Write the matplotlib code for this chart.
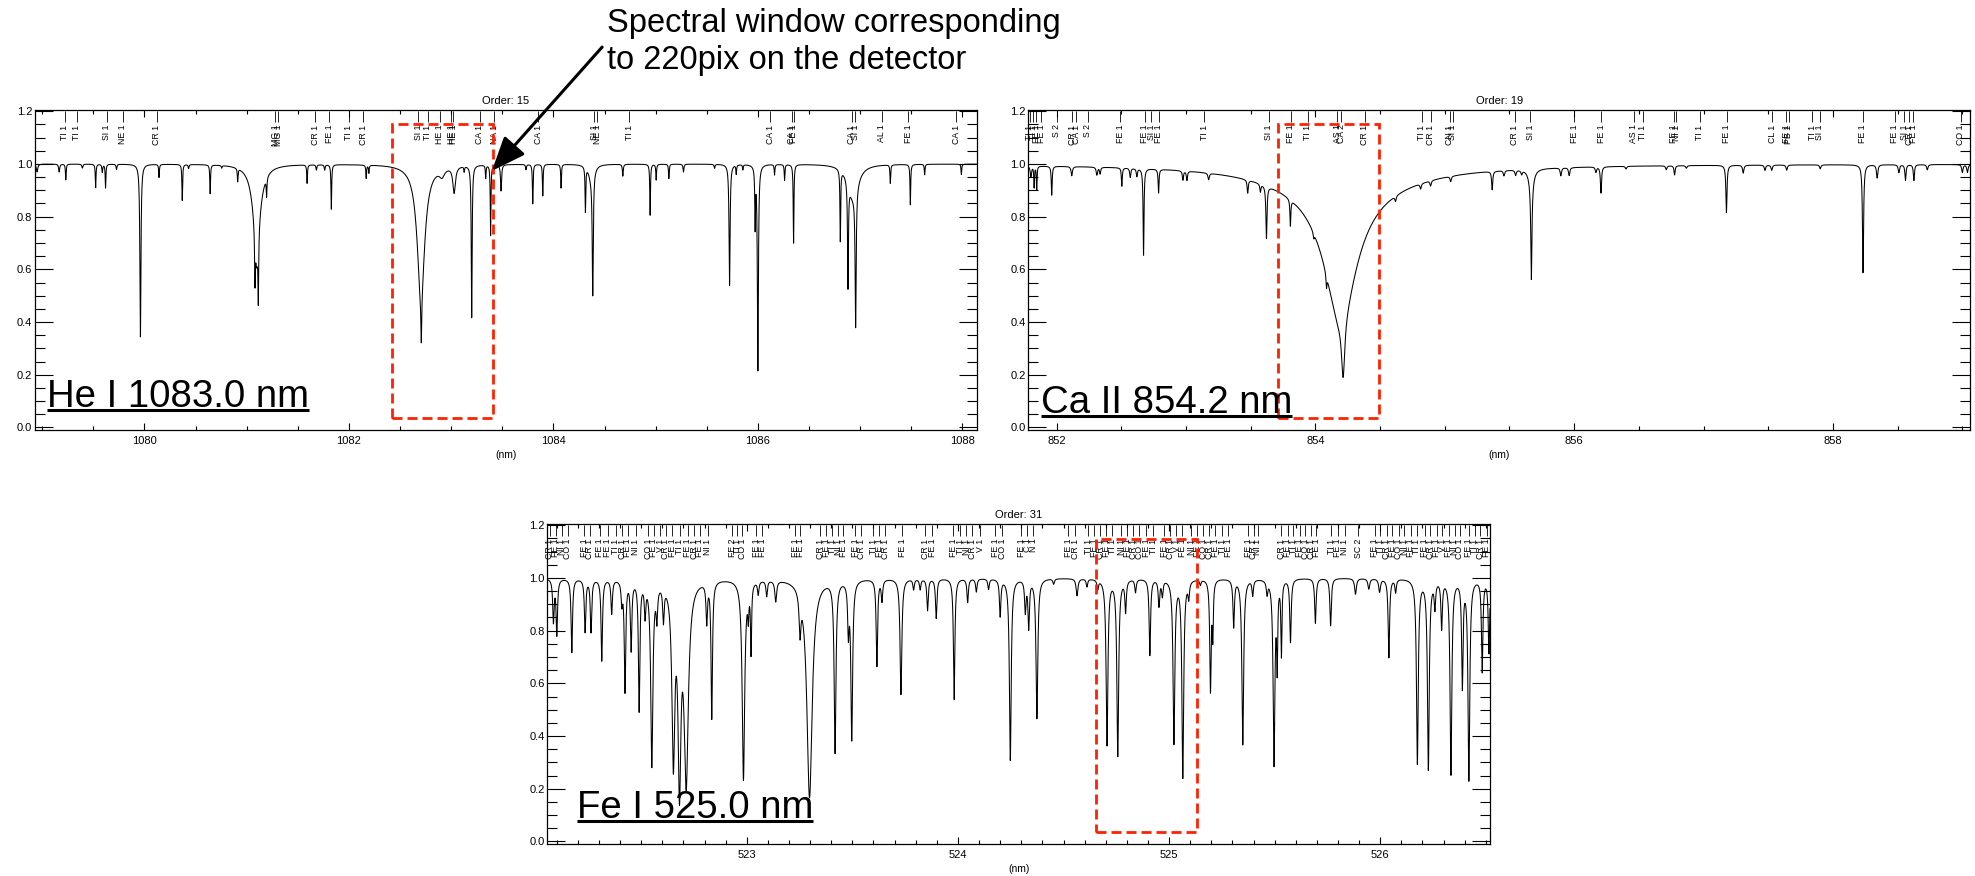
"""Espectros solares de três ordens com janela espectral do detector."""

import matplotlib
matplotlib.use("Agg")
import matplotlib.pyplot as plt
import numpy as np
from matplotlib.lines import Line2D
from matplotlib.patches import FancyArrowPatch, Rectangle
from matplotlib.ticker import FormatStrFormatter, MultipleLocator

plt.rcParams["font.family"] = ["Liberation Sans", "DejaVu Sans"]

# ---------------- Ordem 15: He I 1083.0 nm ----------------
he_centros = [1078.95, 1079.166, 1079.231, 1079.393, 1079.523, 1079.588, 1079.620, 1079.727,
              1079.961, 1080.143, 1080.370, 1080.432, 1080.643, 1080.756, 1080.912,
              1081.098, 1081.098, 1081.081, 1081.114, 1081.195, 1081.591, 1081.682, 1081.763,
              1081.828, 1082.169, 1082.195, 1082.705, 1082.708, 1082.91, 1083.029, 1083.127,
              1083.201, 1083.338, 1083.386, 1083.488, 1083.732, 1083.798, 1083.896, 1084.075,
              1084.313, 1084.385, 1084.37, 1084.679, 1084.946, 1085.005, 1085.129, 1085.272,
              1085.576, 1085.723, 1085.788, 1085.853, 1085.973, 1086.000, 1086.163, 1086.261,
              1086.349, 1086.806, 1086.881, 1086.93, 1086.956, 1087.295, 1087.491, 1087.631,
              1087.990]
he_profund = [0.03, 0.03, 0.06, 0.015, 0.09, 0.03, 0.09, 0.02,
              0.656, 0.05, 0.137, 0.015, 0.11, 0.01, 0.05,
              0.25, 0.12, 0.19, 0.25, 0.07, 0.07, 0.02, 0.02,
              0.17, 0.05, 0.03, 0.50, 0.18, 0.03, 0.10, 0.02,
              0.58, 0.05, 0.27, 0.10, 0.02, 0.15, 0.12, 0.09,
              0.17, 0.46, 0.05, 0.045, 0.194, 0.06, 0.055, 0.03,
              0.015, 0.46, 0.035, 0.02, 0.22, 0.78, 0.04, 0.06,
              0.30, 0.27, 0.40, 0.12, 0.52, 0.07, 0.155, 0.04,
              0.04]
he_largura = [0.008, 0.006, 0.004, 0.006, 0.004, 0.005, 0.004, 0.005,
              0.006, 0.004, 0.004, 0.005, 0.004, 0.005, 0.004,
              0.05, 0.015, 0.004, 0.004, 0.004, 0.004, 0.005, 0.005,
              0.004, 0.004, 0.004, 0.045, 0.005, 0.03, 0.015, 0.004,
              0.005, 0.004, 0.004, 0.006, 0.005, 0.004, 0.004, 0.004,
              0.004, 0.006, 0.03, 0.005, 0.004, 0.004, 0.004, 0.005,
              0.005, 0.006, 0.004, 0.004, 0.004, 0.006, 0.004, 0.004,
              0.004, 0.004, 0.005, 0.06, 0.006, 0.004, 0.004, 0.004,
              0.004]
he_ids_lambda = [1079.22, 1079.34, 1079.63, 1079.79, 1080.12, 1081.28, 1081.31, 1081.67,
                 1081.81, 1082.00, 1082.14, 1082.68, 1082.77, 1082.89, 1083.00, 1083.02,
                 1083.28, 1083.42, 1083.85, 1084.40, 1084.43, 1084.74, 1086.12, 1086.33,
                 1086.35, 1086.92, 1086.95, 1087.21, 1087.47, 1087.94]
he_ids_nome = ["TI 1", "TI 1", "SI 1", "NE 1", "CR 1", "MG 1", "MG 1", "CR 1",
               "FE 1", "TI 1", "CR 1", "SI 1", "TI 1", "HE 1", "HE 1", "HE 1",
               "CA 1", "NA 1", "CA 1", "SI 1", "NE 1", "TI 1", "CA 1", "CA 1",
               "FE 1", "CA 1", "SI 1", "AL 1", "FE 1", "CA 1"]
he_janela = [1082.42, 1083.405]

# ---------------- Ordem 19: Ca II 854.2 nm ----------------
ca_centros = [851.80, 851.825, 851.845, 851.961, 852.116, 852.310, 852.335, 852.503,
              852.568, 852.619, 852.671, 852.787, 852.975, 853.006, 853.174, 853.476,
              853.574, 853.621, 853.806, 853.987, 854.085,
              854.194, 854.194, 854.194, 854.214,
              854.619, 854.813, 854.890, 855.045, 855.366, 855.457, 855.547, 855.594,
              855.669, 855.669, 855.897, 855.961, 856.168, 856.207, 856.401, 856.712,
              856.776, 856.867, 857.177, 857.307, 857.475, 857.527, 857.643, 857.902,
              858.233, 858.342, 858.510, 858.561, 858.626, 858.730, 859.001, 859.04]
ca_profund = [0.04, 0.08, 0.09, 0.11, 0.035, 0.03, 0.025, 0.07,
              0.035, 0.03, 0.33, 0.09, 0.035, 0.035, 0.025, 0.05,
              0.03, 0.20, 0.10, 0.02, 0.05,
              0.10, 0.38, 0.12, 0.22,
              0.02, 0.02, 0.02, 0.02, 0.07, 0.02, 0.02, 0.015,
              0.35, 0.07, 0.03, 0.03, 0.02, 0.10, 0.01, 0.015,
              0.035, 0.01, 0.18, 0.03, 0.02, 0.02, 0.02, 0.015,
              0.41, 0.05, 0.03, 0.06, 0.06, 0.02, 0.03, 0.03]
ca_largura = [0.006, 0.003, 0.003, 0.004, 0.006, 0.006, 0.005, 0.004,
              0.005, 0.005, 0.004, 0.004, 0.005, 0.005, 0.006, 0.005,
              0.005, 0.005, 0.004, 0.005, 0.004,
              0.568, 0.168, 0.103, 0.015,
              0.006, 0.006, 0.006, 0.006, 0.005, 0.006, 0.006, 0.006,
              0.005, 0.02, 0.006, 0.006, 0.006, 0.005, 0.006, 0.006,
              0.005, 0.006, 0.005, 0.006, 0.006, 0.006, 0.006, 0.006,
              0.005, 0.006, 0.006, 0.005, 0.005, 0.006, 0.006, 0.006]
ca_ids_lambda = [851.79, 851.82, 851.84, 851.88, 852.00, 852.12, 852.15, 852.24,
                 852.49, 852.68, 852.73, 852.79, 853.14, 853.64, 853.81, 853.94,
                 854.17, 854.20, 854.38, 854.82, 854.89, 855.04, 855.06, 855.54,
                 855.66, 856.00, 856.21, 856.46, 856.53, 856.77, 856.79, 856.97,
                 857.18, 857.53, 857.64, 857.66, 857.84, 857.90, 858.23, 858.48,
                 858.55, 858.59, 858.62, 858.99]
ca_ids_nome = ["TI 1", "TI 1", "FE 1", "FE 1", "S 2", "CR 1", "CA 1", "S 2",
               "FE 1", "FE 1", "SI 1", "FE 1", "TI 1", "SI 1", "FE 1", "TI 1",
               "AS 1", "CA 2", "CR 1", "TI 1", "CR 1", "CN 1", "SI 1", "CR 1",
               "SI 1", "FE 1", "FE 1", "AS 1", "TI 1", "FE 1", "NI 1", "TI 1",
               "FE 1", "CL 1", "FE 1", "PB 1", "TI 1", "SI 1", "FE 1", "FE 1",
               "SI 1", "CR 1", "FE 1", "CO 1"]
ca_janela = [853.714, 854.495]

# ---------------- Ordem 31: Fe I 525.0 nm ----------------
fe_centros = [522.084, 522.100, 522.171, 522.234, 522.262, 522.313, 522.360, 522.408,
              522.423, 522.452, 522.490, 522.518, 522.550, 522.574, 522.605, 522.652,
              522.681, 522.713, 522.810, 522.834, 522.984, 523.007, 523.020, 523.054,
              523.094, 523.137, 523.252, 523.297, 523.418, 523.481, 523.497, 523.616,
              523.640, 523.730, 523.790, 523.821, 523.856, 523.897, 523.982, 524.046,
              524.087, 524.145, 524.200, 524.248, 524.319, 524.335, 524.374, 524.453,
              524.564, 524.611, 524.662, 524.706, 524.757, 524.794, 524.841, 524.909,
              524.952, 524.968, 525.023, 525.065, 525.093, 525.148, 525.196, 525.207,
              525.306, 525.349, 525.396, 525.464, 525.497, 525.512, 525.532, 525.575,
              525.693, 525.765, 525.883, 525.946, 525.997, 526.041, 526.073, 526.176,
              526.228, 526.259, 526.291, 526.335, 526.389, 526.420, 526.483, 526.515]
fe_profund = [0.16, 0.21, 0.28, 0.20, 0.20, 0.31, 0.13, 0.08,
              0.42, 0.26, 0.49, 0.12, 0.70, 0.12, 0.13, 0.66,
              0.72, 0.75, 0.15, 0.52, 0.76, 0.10, 0.26, 0.05,
              0.06, 0.08, 0.15, 0.83, 0.65, 0.18, 0.60, 0.33,
              0.08, 0.44, 0.04, 0.04, 0.12, 0.15, 0.46, 0.09,
              0.05, 0.04, 0.14, 0.69, 0.12, 0.18, 0.53, 0.02,
              0.065, 0.03, 0.035, 0.63, 0.67, 0.12, 0.05, 0.29,
              0.10, 0.06, 0.62, 0.75, 0.06, 0.02, 0.42, 0.20,
              0.18, 0.63, 0.06, 0.05, 0.70, 0.30, 0.28, 0.24,
              0.17, 0.18, 0.06, 0.04, 0.05, 0.30, 0.05, 0.70,
              0.72, 0.10, 0.18, 0.74, 0.40, 0.76, 0.35, 0.28]
fe_largura = [0.004, 0.004, 0.004, 0.004, 0.004, 0.004, 0.004, 0.004,
              0.004, 0.004, 0.004, 0.004, 0.006, 0.004, 0.004, 0.008,
              0.008, 0.012, 0.004, 0.004, 0.007, 0.003, 0.003, 0.004,
              0.004, 0.005, 0.005, 0.015, 0.005, 0.004, 0.005, 0.004,
              0.004, 0.005, 0.004, 0.004, 0.004, 0.004, 0.004, 0.004,
              0.004, 0.004, 0.004, 0.005, 0.004, 0.004, 0.005, 0.004,
              0.005, 0.004, 0.004, 0.005, 0.005, 0.004, 0.004, 0.004,
              0.004, 0.004, 0.005, 0.005, 0.004, 0.004, 0.004, 0.003,
              0.004, 0.005, 0.004, 0.004, 0.005, 0.003, 0.003, 0.004,
              0.004, 0.004, 0.005, 0.005, 0.005, 0.004, 0.004, 0.005,
              0.005, 0.004, 0.004, 0.005, 0.004, 0.005, 0.004, 0.004]
fe_ids_lambda = [522.067, 522.096, 522.124, 522.153, 522.229, 522.257, 522.304, 522.342,
                 522.380, 522.409, 522.437, 522.475, 522.532, 522.560, 522.589, 522.617,
                 522.646, 522.683, 522.721, 522.750, 522.778, 522.816, 522.930, 522.954,
                 522.978, 523.044, 523.073, 523.229, 523.253, 523.347, 523.376, 523.404,
                 523.433, 523.456, 523.513, 523.542, 523.599, 523.627, 523.656, 523.736,
                 523.845, 523.878, 523.978, 524.011, 524.039, 524.068, 524.106, 524.177,
                 524.210, 524.300, 524.328, 524.357, 524.523, 524.556, 524.618, 524.646,
                 524.674, 524.703, 524.731, 524.774, 524.802, 524.831, 524.859, 524.892,
                 524.926, 524.978, 525.006, 525.035, 525.063, 525.106, 525.134, 525.163,
                 525.191, 525.219, 525.253, 525.281, 525.376, 525.400, 525.419, 525.532,
                 525.561, 525.589, 525.618, 525.646, 525.674, 525.698, 525.769, 525.798,
                 525.831, 525.897, 525.973, 526.001, 526.030, 526.058, 526.087, 526.115,
                 526.144, 526.172, 526.210, 526.238, 526.267, 526.295, 526.324, 526.352,
                 526.376, 526.419, 526.447, 526.475, 526.504]
fe_ids_nome = ["CR 1", "FE 1", "NI 1", "CO 1", "FE 1", "CR 1", "FE 1", "FE 1",
               "TI 1", "CR 1", "FE 1", "NI 1", "CO 1", "FE 1", "V 1", "CR 1",
               "FE 1", "TI 1", "FE 1", "CR 1", "FE 1", "NI 1", "FE 2", "TI 1",
               "CO 1", "FE 1", "FE 1", "FE 1", "FE 1", "CR 1", "FE 1", "TI 1",
               "NI 1", "FE 1", "FE 1", "CR 1", "TI 1", "FE 1", "CR 1", "FE 1",
               "CR 1", "FE 1", "FE 1", "TI 1", "NI 1", "CR 1", "V 1", "FE 1",
               "CO 1", "FE 1", "C 1", "N 1", "FE 1", "CR 1", "TI 1", "FE 1",
               "CR 1", "FE 1", "TI 1", "NI 1", "FE 1", "CR 1", "CO 1", "FE 1",
               "TI 1", "FE 1", "CR 1", "V 1", "FE 1", "NI 1", "FE 1", "CO 1",
               "CR 1", "FE 1", "TI 1", "FE 1", "FE 1", "CR 1", "NI 1", "CR 1",
               "FE 1", "TI 1", "FE 1", "CO 1", "CR 1", "FE 1", "TI 1", "FE 1",
               "NI 1", "SC 2", "FE 1", "TI 1", "CR 1", "FE 1", "CO 1", "NI 1",
               "FE 1", "TI 1", "FE 1", "CR 1", "FE 1", "V 1", "FE 1", "NI 1",
               "CO 1", "FE 1", "TI 1", "CR 1", "FE 1"]
fe_janela = [524.652, 525.133]

W, H = 1975, 876


def espectro(x, centros, profund, largura):
    """Contínuo unitário menos perfis lorentzianos das linhas."""
    fluxo = np.ones_like(x)
    for c, d, w in zip(centros, profund, largura):
        fluxo -= d / (1.0 + ((x - c) / w) ** 2)
    return np.clip(fluxo, 0.0, None)


def painel(ax, xlim, maior, menor, centros, profund, largura, ids_lambda, ids_nome,
           janela, ordem, ytopo_janela):
    x = np.linspace(xlim[0], xlim[1], 12000)
    ax.plot(x, espectro(x, centros, profund, largura), color="black", lw=0.75)
    ax.set_xlim(*xlim)
    ax.set_ylim(-0.01, 1.205)

    for lam, nome in zip(ids_lambda, ids_nome):
        if not xlim[0] < lam < xlim[1]:
            continue
        ax.vlines(lam, 1.16, 1.2, color="black", lw=0.6)
        ax.text(lam, 1.15, nome, rotation=90, ha="center", va="top", fontsize=6.3)

    ax.add_patch(Rectangle((janela[0], 0.037), janela[1] - janela[0], ytopo_janela - 0.037,
                           fill=False, edgecolor="#ff2200", lw=2.0,
                           linestyle=(0, (3.6, 1.8)), zorder=5))

    ax.xaxis.set_major_locator(MultipleLocator(maior))
    ax.xaxis.set_minor_locator(MultipleLocator(menor))
    ax.yaxis.set_major_locator(MultipleLocator(0.2))
    ax.yaxis.set_minor_locator(MultipleLocator(0.05))
    ax.yaxis.set_major_formatter(FormatStrFormatter("%.1f"))
    ax.tick_params(which="both", direction="in", top=True, right=True, labelsize=8)
    ax.tick_params(axis="x", which="major", length=5, width=0.8, pad=4)
    ax.tick_params(axis="x", which="minor", length=3, width=0.8)
    ax.tick_params(axis="y", which="major", length=13, width=0.8, pad=2)
    ax.tick_params(axis="y", which="minor", length=7, width=0.8)
    for s in ax.spines.values():
        s.set_linewidth(0.9)
    ax.set_title(f"Order: {ordem}", fontsize=8, pad=4)
    ax.set_xlabel("(nm)", fontsize=7.5, labelpad=3)


fig = plt.figure(figsize=(W / 100, H / 100), dpi=100)
ax1 = fig.add_axes([35 / W, 1 - 430 / H, 941.7 / W, 320 / H])
ax2 = fig.add_axes([1028.3 / W, 1 - 430 / H, 941.7 / W, 320 / H])
ax3 = fig.add_axes([547.3 / W, 1 - 844 / H, 942.7 / W, 320 / H])

painel(ax1, (1078.93, 1088.14), 2, 0.5, he_centros, he_profund, he_largura,
       he_ids_lambda, he_ids_nome, he_janela, 15, 1.151)
painel(ax2, (851.78, 859.06), 2, 0.5, ca_centros, ca_profund, ca_largura,
       ca_ids_lambda, ca_ids_nome, ca_janela, 19, 1.151)
painel(ax3, (522.055, 526.52), 1, 0.1, fe_centros, fe_profund, fe_largura,
       fe_ids_lambda, fe_ids_nome, fe_janela, 31, 1.149)

# rótulos grandes sublinhados
rotulos = [("He I 1083.0 nm", 46.7, 406.7), ("Ca II 854.2 nm", 1040.7, 413.0),
           ("Fe I 525.0 nm", 576.7, 818.3)]
textos = []
for txt, px, py in rotulos:
    t = fig.text(px / W, 1 - py / H, txt, fontsize=27.6, ha="left", va="baseline",
                 zorder=6)
    textos.append((t, py))

fig.text(607 / W, 1 - 8 / H, "Spectral window corresponding\nto 220pix on the detector",
         fontsize=23.5, ha="left", va="top", linespacing=1.25)

seta = FancyArrowPatch((604 / W, 1 - 45 / H), (490 / W, 1 - 173 / H),
                       transform=fig.transFigure, arrowstyle="-|>,head_length=21,head_width=8.5",
                       mutation_scale=1, color="black", lw=2.2)
fig.add_artist(seta)

fig.canvas.draw()
for t, py in textos:
    bb = t.get_window_extent()
    ysub = 1 - (py + 3) / H
    fig.add_artist(Line2D([bb.x0 / W, bb.x1 / W], [ysub, ysub], transform=fig.transFigure,
                          color="black", lw=2.2, solid_capstyle="butt"))

fig.savefig("out.png", dpi=100)
plt.close(fig)
